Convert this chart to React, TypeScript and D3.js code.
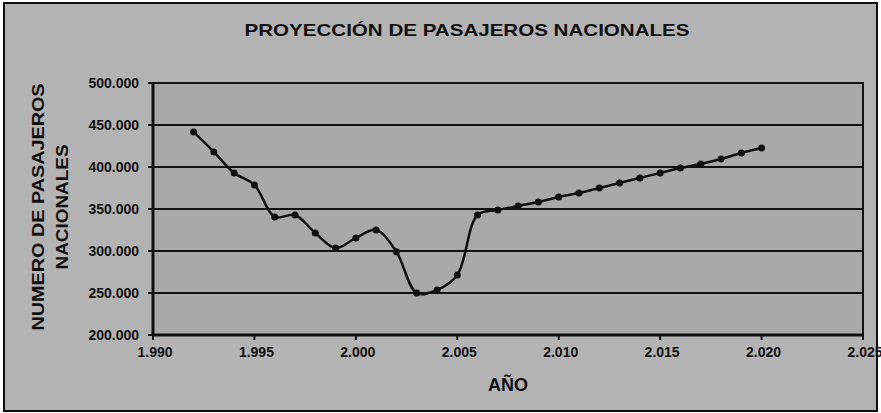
import { useEffect, useRef } from "react";
import * as d3 from "d3";

const years = [
  1992, 1993, 1994, 1995, 1996, 1997, 1998, 1999, 2000, 2001, 2002, 2003, 2004,
  2005, 2006, 2007, 2008, 2009, 2010, 2011, 2012, 2013, 2014, 2015, 2016, 2017,
  2018, 2019, 2020,
];
const passengers = [
  441700, 417900, 392900, 378600, 340500, 342900, 321400, 303600, 315500,
  325000, 299000, 250000, 253600, 271400, 342900, 348800, 353600, 358300,
  364300, 369000, 375000, 381000, 387000, 392900, 398800, 403600, 409500,
  416700, 422600,
];
const xTicks = [1990, 1995, 2000, 2005, 2010, 2015, 2020, 2025];
const yTicks = [200000, 250000, 300000, 350000, 400000, 450000, 500000];

const W = 881;
const H = 413;

// "1.990", "500.000" style numbers
const fmt = (v: number) => d3.format(",")(v).replace(/,/g, ".");

export default function App() {
  const svgRef = useRef<SVGSVGElement>(null);

  useEffect(() => {
    const svg = d3.select(svgRef.current!);
    svg.selectAll("*").remove();

    const left = 153;
    const right = 863;
    const top = 83;
    const bottom = 335;

    const x = d3.scaleLinear().domain([1990, 2025]).range([left, right]);
    const y = d3.scaleLinear().domain([200000, 500000]).range([bottom, top]);

    // chart background + frame
    svg
      .append("rect")
      .attr("x", 4)
      .attr("y", 3)
      .attr("width", W - 8)
      .attr("height", H - 5)
      .attr("fill", "#b3b3b3")
      .attr("stroke", "#111")
      .attr("stroke-width", 2);

    // plot area
    svg
      .append("rect")
      .attr("x", left)
      .attr("y", top)
      .attr("width", right - left)
      .attr("height", bottom - top)
      .attr("fill", "#a9a9a9")
      .attr("stroke", "#111")
      .attr("stroke-width", 2);

    // gridlines
    svg
      .append("g")
      .selectAll("line")
      .data(yTicks)
      .join("line")
      .attr("x1", left - 5)
      .attr("x2", right)
      .attr("y1", (d) => y(d))
      .attr("y2", (d) => y(d))
      .attr("stroke", "#111")
      .attr("stroke-width", 2);

    // y axis line
    svg
      .append("line")
      .attr("x1", left)
      .attr("x2", left)
      .attr("y1", top)
      .attr("y2", bottom)
      .attr("stroke", "#111")
      .attr("stroke-width", 3);

    // x axis line + ticks
    svg
      .append("line")
      .attr("x1", left)
      .attr("x2", right)
      .attr("y1", bottom)
      .attr("y2", bottom)
      .attr("stroke", "#111")
      .attr("stroke-width", 3);

    svg
      .append("g")
      .selectAll("line")
      .data(xTicks)
      .join("line")
      .attr("x1", (d) => x(d))
      .attr("x2", (d) => x(d))
      .attr("y1", bottom)
      .attr("y2", bottom + 5)
      .attr("stroke", "#111")
      .attr("stroke-width", 2);

    const font = "'Liberation Sans', Arial, sans-serif";

    // y tick labels
    svg
      .append("g")
      .selectAll("text")
      .data(yTicks)
      .join("text")
      .attr("x", left - 14)
      .attr("y", (d) => y(d))
      .attr("dy", "0.35em")
      .attr("text-anchor", "end")
      .attr("font-family", font)
      .attr("font-weight", "bold")
      .attr("font-size", 14)
      .attr("fill", "#111")
      .text((d) => fmt(d));

    // x tick labels
    svg
      .append("g")
      .selectAll("text")
      .data(xTicks)
      .join("text")
      .attr("x", (d) => x(d) + 2)
      .attr("y", bottom + 22)
      .attr("text-anchor", "middle")
      .attr("font-family", font)
      .attr("font-weight", "bold")
      .attr("font-size", 14)
      .attr("fill", "#111")
      .text((d) => fmt(d));

    // titles
    svg
      .append("text")
      .attr("x", 467)
      .attr("y", 36)
      .attr("text-anchor", "middle")
      .attr("font-family", font)
      .attr("font-weight", "bold")
      .attr("font-size", 17)
      .attr("textLength", 445)
      .attr("lengthAdjust", "spacingAndGlyphs")
      .attr("fill", "#111")
      .text("PROYECCIÓN DE PASAJEROS NACIONALES");

    svg
      .append("text")
      .attr("x", 508)
      .attr("y", 391)
      .attr("text-anchor", "middle")
      .attr("font-family", font)
      .attr("font-weight", "bold")
      .attr("font-size", 18)
      .attr("fill", "#111")
      .text("AÑO");

    const yTitle = svg
      .append("g")
      .attr("font-family", font)
      .attr("font-weight", "bold")
      .attr("font-size", 17)
      .attr("fill", "#111")
      .attr("text-anchor", "middle");
    yTitle
      .append("text")
      .attr("transform", "translate(44,207) rotate(-90)")
      .attr("textLength", 247)
      .attr("lengthAdjust", "spacingAndGlyphs")
      .text("NUMERO DE PASAJEROS");
    yTitle
      .append("text")
      .attr("transform", "translate(68,207) rotate(-90)")
      .attr("textLength", 125)
      .attr("lengthAdjust", "spacingAndGlyphs")
      .text("NACIONALES");

    // series
    const pts = years.map((yr, i) => [yr, passengers[i]] as [number, number]);
    const line = d3
      .line<[number, number]>()
      .x((d) => x(d[0]))
      .y((d) => y(d[1]))
      .curve(d3.curveCatmullRom.alpha(0.5));

    svg
      .append("path")
      .attr("d", line(pts))
      .attr("fill", "none")
      .attr("stroke", "#111")
      .attr("stroke-width", 2.5);

    svg
      .append("g")
      .selectAll("circle")
      .data(pts)
      .join("circle")
      .attr("cx", (d) => x(d[0]))
      .attr("cy", (d) => y(d[1]))
      .attr("r", 3.5)
      .attr("fill", "#111");

    return () => {
      svg.selectAll("*").remove();
    };
  }, []);

  return (
    <svg
      ref={svgRef}
      width={W}
      height={H}
      style={{ position: "absolute", left: 0, top: 0, background: "#fff" }}
    />
  );
}
